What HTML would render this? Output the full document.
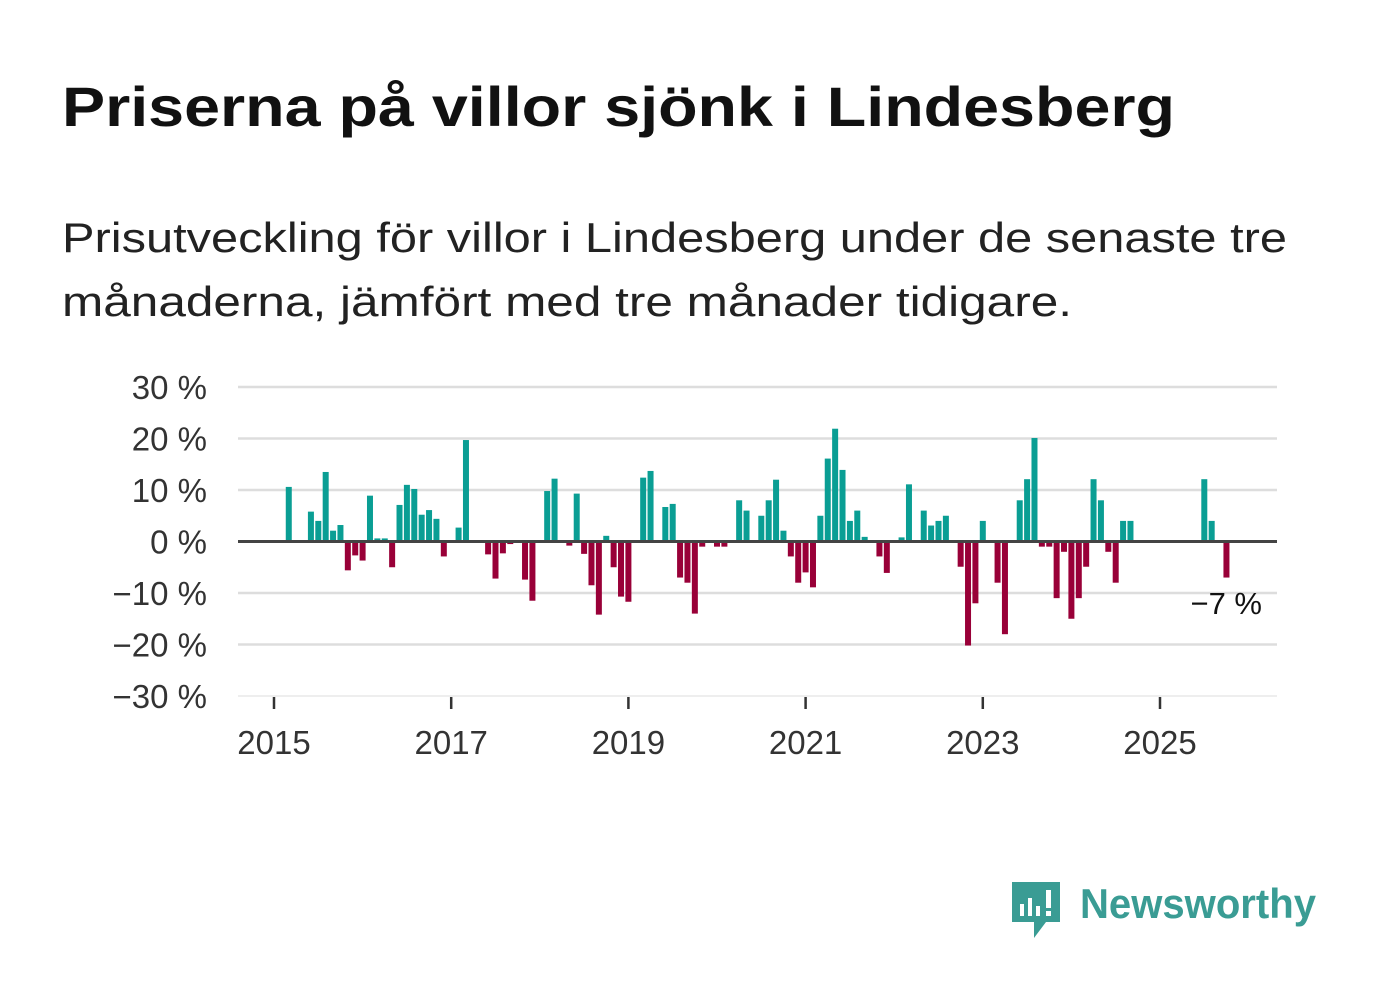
<!DOCTYPE html>
<html><head><meta charset="utf-8"><style>
html,body{margin:0;padding:0;background:#fff;}
svg{display:block;font-family:"Liberation Sans","Noto Sans CJK SC",sans-serif;}
</style></head><body>
<svg id="chart" width="1382" height="999" viewBox="0 0 1382 999">
<text x="62" y="126" font-size="56" font-weight="bold" fill="#111" textLength="1113" lengthAdjust="spacingAndGlyphs">Priserna på villor sjönk i Lindesberg</text>
<text x="62" y="252" font-size="42" fill="#222" textLength="1225" lengthAdjust="spacingAndGlyphs">Prisutveckling för villor i Lindesberg under de senaste tre</text>
<text x="62" y="316" font-size="42" fill="#222" textLength="1010" lengthAdjust="spacingAndGlyphs">månaderna, jämfört med tre månader tidigare.</text>
<g id="grid"></g>
<g id="bars"></g>
<g id="axes"></g>
<text x="1262" y="614" font-size="31" fill="#111" text-anchor="end">−7 %</text>
<g>
<path d="M1012 882 h48 v40 h-14 l-12 16 v-16 h-22 z" fill="#3a9c94"/>
<rect x="1020" y="904" width="4" height="12" fill="#fff"/>
<rect x="1028" y="898" width="4" height="18" fill="#fff"/>
<rect x="1036" y="906" width="4" height="10" fill="#fff"/>
<rect x="1046" y="890" width="5" height="18" fill="#fff"/>
<rect x="1046" y="911" width="5" height="5" fill="#fff"/>
<text x="1080" y="918" font-size="42" font-weight="bold" fill="#3a9c94" textLength="236" lengthAdjust="spacingAndGlyphs">Newsworthy</text>
</g>
</svg>
<script>
const values = [null,null,10.6,0,0,5.8,4.0,13.5,2.1,3.2,-5.6,-2.7,-3.7,8.9,0.6,0.6,-5.0,7.1,11.0,10.2,5.2,6.1,4.4,-2.9,0,2.7,19.7,0,0,-2.5,-7.2,-2.3,-0.5,0,-7.4,-11.5,0,9.8,12.2,0,-0.8,9.3,-2.4,-8.5,-14.2,1.1,-5.0,-10.7,-11.7,0,12.4,13.7,0,6.7,7.3,-7.0,-8.0,-14.0,-1.0,0,-1.0,-1.0,0,8.0,6.0,0,5.0,8.0,12.0,2.1,-2.9,-8.0,-6.0,-8.9,5.0,16.1,21.9,13.9,4.0,6.0,0.9,0,-2.9,-6.1,0,0.8,11.1,0,6.0,3.1,4.0,5.0,0,-4.9,-20.2,-12.0,4.0,0,-8.0,-18.0,0,8.0,12.1,20.1,-1.0,-1.0,-11.0,-2.0,-15.0,-11.0,-4.9,12.1,8.0,-2.0,-8.0,4.0,4.0,0,0,0,0,0,0,0,0,0,12.1,4.0,0,-7.0];
const yTicks = [30,20,10,0,-10,-20,-30];
const yTickLabels = ["30 %","20 %","10 %","0 %","−10 %","−20 %","−30 %"];
const xTickYears = [2015,2017,2019,2021,2023,2025];
const startYear = 2015;
const NS='http://www.w3.org/2000/svg';
const y = v => 541.5 - v*5.15;
const x = i => 274 + i*(88.6/12);
function mk(tag, attrs, parent){const e=document.createElementNS(NS,tag);for(const k in attrs)e.setAttribute(k,attrs[k]);parent.appendChild(e);return e;}
const grid=document.getElementById('grid'), bars=document.getElementById('bars'), axes=document.getElementById('axes');
yTicks.forEach((t,k)=>{
  if(t!==0){const l=mk('line',{x1:238,x2:1277,y1:y(t),y2:y(t),stroke:t===-30?'#e8e8e8':'#dddddd','stroke-width':t===-30?1.5:2.5},grid);
  
  }
  const tx=mk('text',{x:207,y:y(t)+12,'font-size':33,fill:'#333','text-anchor':'end'},axes);
  tx.textContent=yTickLabels[k];
  
  
});
values.forEach((v,i)=>{
  if(v===null||v===0)return;
  const r=mk('rect',{x:x(i)-3,width:6,y:Math.min(y(v),y(0)),height:Math.abs(y(v)-y(0)),fill:v>0?'#0a9e94':'#990038'},bars);
  
  
});
const z=mk('line',{x1:238,x2:1277,y1:y(0),y2:y(0),stroke:'#444','stroke-width':3},axes);


xTickYears.forEach(yr=>{
  const xi=x((yr-startYear)*12);
  const t=mk('line',{x1:xi,x2:xi,y1:697,y2:709,stroke:'#333','stroke-width':2.5},axes);
  
  
  const tx=mk('text',{x:xi,y:754,'font-size':33,fill:'#333','text-anchor':'middle'},axes);
  tx.textContent=yr;
  
  
});
</script>
</body></html>
